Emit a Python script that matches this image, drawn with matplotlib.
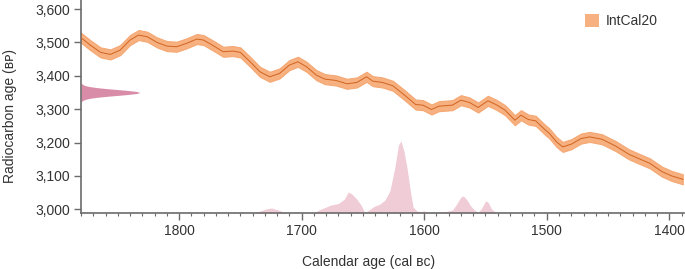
import matplotlib
matplotlib.use("Agg")
import matplotlib.pyplot as plt
import numpy as np
from matplotlib.ticker import MultipleLocator, FuncFormatter
from matplotlib.patches import Patch

plt.rcParams['font.family'] = ['Liberation Sans', 'DejaVu Sans']

# IntCal20 calibration curve (cal BC, 14C BP)
curve_year = [1881, 1872.5, 1864, 1856, 1848, 1840, 1833, 1826, 1818, 1810, 1802, 1794,
              1785.5, 1780, 1772, 1764, 1756, 1750, 1742, 1734, 1726, 1718, 1710, 1703,
              1696, 1688, 1681, 1672, 1663, 1655, 1647, 1642, 1634, 1625.5, 1616, 1607,
              1601, 1594, 1588, 1577, 1570, 1563, 1556, 1548, 1541, 1534, 1526, 1521,
              1515, 1509, 1501, 1498, 1492, 1487, 1480, 1472, 1465, 1455, 1444, 1433,
              1425, 1416, 1406, 1398, 1389]
curve_bp = [3517, 3492, 3470, 3464, 3477, 3507, 3522, 3517, 3500, 3489, 3487, 3497,
            3510, 3507, 3490, 3472, 3474, 3470, 3442, 3412, 3397, 3407, 3432, 3442,
            3427, 3402, 3390, 3386, 3376, 3380, 3397, 3384, 3380, 3370, 3342, 3314,
            3312, 3299, 3309, 3312, 3327, 3320, 3305, 3325, 3313, 3297, 3267, 3282,
            3269, 3265, 3237, 3228, 3202, 3187, 3195, 3212, 3217, 3210, 3190, 3165,
            3152, 3138, 3113, 3100, 3090]
curve_sigma = 15

# Radiocarbon measurement distribution (14C BP, relative density)
meas_bp = [3323, 3326, 3329, 3332, 3335, 3338, 3341, 3344, 3347, 3350, 3353, 3356,
           3359, 3362, 3365, 3368, 3371, 3374, 3377]
meas_dens = [0.011, 0.029, 0.066, 0.135, 0.249, 0.411, 0.607, 0.801, 0.946, 1.0, 0.946,
             0.801, 0.607, 0.411, 0.249, 0.135, 0.066, 0.029, 0.011]

# Calibrated posterior (cal BC, relative density)
post_year = [1740, 1734, 1729, 1724.5, 1719, 1714, 1710, 1690, 1686, 1680, 1676, 1670,
             1665, 1662, 1659, 1655, 1651, 1648.5, 1645, 1641, 1636, 1632, 1628, 1624,
             1621, 1619, 1616.5, 1614, 1611, 1609, 1606, 1603, 1600, 1596, 1590, 1582,
             1577, 1574, 1570, 1568, 1565, 1562, 1559, 1556, 1553, 1550, 1548, 1545, 1541]
post_dens = [0, 2, 4, 5, 3, 0.5, 0, 0, 3, 6, 8, 9.5,
             14, 21, 19, 14, 7, 0.5, 3, 6.5, 9, 13, 22, 45,
             68, 72, 62, 45, 20, 6, 2, 1.5, 2, 0.5, 1, 1.5,
             3, 8, 16, 17, 13, 7, 3, 0.5, 5, 12, 11, 4, 0]

xticks = [1800, 1700, 1600, 1500, 1400]
yticks = [3000, 3100, 3200, 3300, 3400, 3500, 3600]

band_color = '#F7B07F'
line_color = '#CF6422'
meas_color = '#D98CA8'
post_color = '#F0CCD7'
axis_color = '#6b6b6b'
text_color = '#333333'

fig = plt.figure(figsize=(6.85, 2.69), dpi=100)
ax = fig.add_axes([81/685, 56/269, 603/685, 213/269])

xlim = (1880, 1388)
ylim = (2989, 3627)

# posterior on a twin axis (pixel-height density)
ax2 = ax.twinx()
ax2.set_ylim(0, 213)
ax2.fill_between(post_year, 0, post_dens, color=post_color, lw=0, zorder=1)
ax2.set_axis_off()
ax.set_zorder(ax2.get_zorder() + 1)
ax.patch.set_visible(False)

cy = np.array(curve_bp, dtype=float)
ax.fill_between(curve_year, cy - curve_sigma, cy + curve_sigma, color=band_color,
                lw=0.8, edgecolor='#F5A873', joinstyle='round', zorder=2)
ax.plot(curve_year, curve_bp, color=line_color, lw=0.7, solid_joinstyle='round', zorder=3)

md = np.array(meas_dens)
ax.fill_betweenx(meas_bp, xlim[0], xlim[0] - 48 * md, color=meas_color, lw=0, zorder=2)

ax.set_xlim(*xlim)
ax.set_ylim(*ylim)
ax.set_xticks(xticks)
ax.xaxis.set_minor_locator(MultipleLocator(10))
ax.set_yticks(yticks)
ax.yaxis.set_major_formatter(FuncFormatter(lambda v, p: f"{int(v):,}"))

for s in ['top', 'right']:
    ax.spines[s].set_visible(False)
for s in ['left', 'bottom']:
    ax.spines[s].set_color(axis_color)
    ax.spines[s].set_linewidth(1.2)
ax.tick_params(axis='both', which='major', length=5, width=1.0, color=axis_color,
               labelsize=10, labelcolor=text_color, pad=3)
ax.tick_params(axis='x', which='minor', length=2.5, width=0.8, color=axis_color)

fig.text(369/685, 1 - 262/269, 'Calendar age (cal \u0299\u1d04)', ha='center', va='center',
         fontsize=10, color=text_color)
fig.text(0.014, 1 - 116/269, 'Radiocarbon age (\u0299\u1d18)', ha='center', va='center',
         rotation=90, fontsize=10, color=text_color)

leg = ax.legend(handles=[Patch(facecolor=band_color, edgecolor='none', label='IntCal20')],
                loc='upper right', bbox_to_anchor=(0.975, 0.985), frameon=False,
                fontsize=10, handlelength=1.0, handleheight=1.0, handletextpad=0.5,
                borderaxespad=0.4)
for t in leg.get_texts():
    t.set_color(text_color)

fig.savefig('out.png', dpi=100)
